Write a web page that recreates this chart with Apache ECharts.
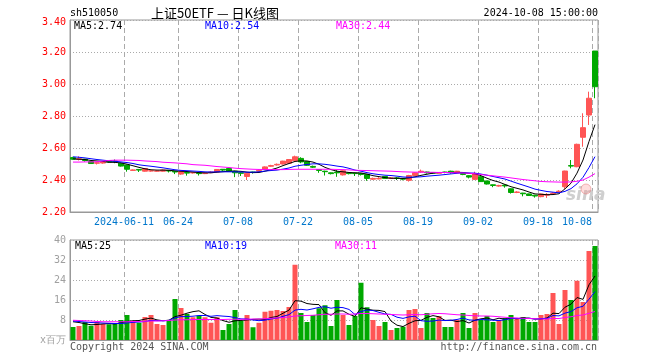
<!DOCTYPE html>
<html><head><meta charset="utf-8">
<script src="https://cdn.jsdelivr.net/npm/echarts@6/dist/echarts.min.js"></script>
<style>html,body{margin:0;padding:0;background:#fff}#c{width:660px;height:360px}</style>
</head><body><div id="c"></div>
<script>
const dates = ['2024-05-28','2024-05-29','2024-05-30','2024-05-31','2024-06-03','2024-06-04','2024-06-05','2024-06-06','2024-06-07','2024-06-11',
'2024-06-12','2024-06-13','2024-06-14','2024-06-17','2024-06-18','2024-06-19','2024-06-20','2024-06-21','2024-06-24','2024-06-25',
'2024-06-26','2024-06-27','2024-06-28','2024-07-01','2024-07-02','2024-07-03','2024-07-04','2024-07-05','2024-07-08','2024-07-09',
'2024-07-10','2024-07-11','2024-07-12','2024-07-15','2024-07-16','2024-07-17','2024-07-18','2024-07-19','2024-07-22','2024-07-23',
'2024-07-24','2024-07-25','2024-07-26','2024-07-29','2024-07-30','2024-07-31','2024-08-01','2024-08-02','2024-08-05','2024-08-06',
'2024-08-07','2024-08-08','2024-08-09','2024-08-12','2024-08-13','2024-08-14','2024-08-15','2024-08-16','2024-08-19','2024-08-20',
'2024-08-21','2024-08-22','2024-08-23','2024-08-26','2024-08-27','2024-08-28','2024-08-29','2024-08-30','2024-09-02','2024-09-03',
'2024-09-04','2024-09-05','2024-09-06','2024-09-09','2024-09-10','2024-09-11','2024-09-12','2024-09-13','2024-09-18','2024-09-19',
'2024-09-20','2024-09-23','2024-09-24','2024-09-25','2024-09-26','2024-09-27','2024-09-30','2024-10-08'];

const openP = [2.540,2.528,2.530,2.515,2.505,2.506,2.520,2.518,2.505,2.494,
2.460,2.466,2.455,2.456,2.455,2.455,2.460,2.455,2.437,2.447,
2.444,2.444,2.440,2.446,2.450,2.467,2.472,2.455,2.445,2.422,
2.450,2.455,2.467,2.486,2.494,2.500,2.505,2.520,2.535,2.515,
2.485,2.465,2.455,2.445,2.450,2.432,2.445,2.443,2.440,2.435,
2.405,2.407,2.422,2.410,2.413,2.410,2.398,2.428,2.450,2.450,
2.447,2.442,2.450,2.455,2.445,2.440,2.427,2.404,2.420,2.394,
2.370,2.362,2.368,2.345,2.322,2.318,2.313,2.305,2.296,2.305,
2.315,2.326,2.358,2.490,2.483,2.667,2.806,3.206];
const closeP = [2.530,2.533,2.522,2.503,2.508,2.512,2.512,2.515,2.487,2.467,
2.463,2.462,2.472,2.458,2.457,2.462,2.456,2.450,2.452,2.443,
2.447,2.440,2.443,2.450,2.466,2.462,2.455,2.445,2.442,2.442,
2.447,2.460,2.482,2.490,2.498,2.518,2.528,2.545,2.513,2.492,
2.480,2.460,2.452,2.440,2.445,2.458,2.440,2.440,2.435,2.410,
2.410,2.410,2.410,2.413,2.410,2.405,2.428,2.445,2.455,2.445,
2.443,2.447,2.447,2.450,2.455,2.435,2.418,2.437,2.390,2.375,
2.366,2.366,2.363,2.322,2.325,2.314,2.303,2.300,2.312,2.310,
2.318,2.330,2.456,2.487,2.623,2.727,2.911,2.983];
const lowP = [2.526,2.522,2.515,2.500,2.497,2.502,2.508,2.505,2.484,2.452,
2.457,2.450,2.452,2.452,2.452,2.452,2.447,2.437,2.432,2.427,
2.440,2.428,2.437,2.443,2.447,2.455,2.452,2.418,2.425,2.400,
2.440,2.452,2.463,2.482,2.490,2.497,2.502,2.515,2.505,2.488,
2.475,2.445,2.428,2.435,2.420,2.428,2.435,2.425,2.428,2.395,
2.400,2.404,2.407,2.408,2.400,2.398,2.390,2.425,2.445,2.440,
2.438,2.440,2.442,2.440,2.442,2.430,2.410,2.400,2.388,2.372,
2.355,2.358,2.352,2.315,2.318,2.298,2.300,2.290,2.292,2.288,
2.310,2.322,2.345,2.473,2.480,2.608,2.744,2.911];
const highP = [2.545,2.548,2.532,2.518,2.512,2.515,2.524,2.528,2.508,2.496,
2.466,2.468,2.475,2.460,2.460,2.465,2.462,2.456,2.454,2.450,
2.450,2.446,2.446,2.455,2.468,2.468,2.475,2.458,2.450,2.445,
2.452,2.465,2.485,2.495,2.503,2.520,2.530,2.552,2.542,2.518,
2.490,2.467,2.458,2.447,2.462,2.462,2.447,2.445,2.442,2.437,
2.415,2.418,2.425,2.418,2.418,2.412,2.432,2.450,2.465,2.452,
2.450,2.450,2.452,2.458,2.457,2.445,2.430,2.452,2.425,2.396,
2.372,2.370,2.370,2.347,2.330,2.320,2.315,2.307,2.314,2.318,
2.323,2.336,2.458,2.525,2.627,2.817,2.952,3.206];

const ma5 = [2.532,2.530,2.528,2.522,2.519,2.516,2.511,2.510,2.507,2.499,
2.489,2.479,2.470,2.464,2.462,2.462,2.461,2.457,2.455,2.453,
2.450,2.446,2.445,2.445,2.449,2.452,2.455,2.456,2.454,2.449,
2.446,2.447,2.455,2.464,2.475,2.490,2.503,2.516,2.520,2.519,
2.512,2.498,2.479,2.465,2.455,2.451,2.447,2.445,2.444,2.437,
2.427,2.421,2.415,2.411,2.411,2.410,2.413,2.420,2.429,2.436,
2.443,2.447,2.447,2.446,2.448,2.447,2.441,2.439,2.427,2.411,
2.397,2.387,2.372,2.358,2.348,2.338,2.325,2.313,2.311,2.308,
2.309,2.314,2.345,2.380,2.443,2.525,2.641,2.746];
const ma10 = [2.545,2.542,2.538,2.533,2.528,2.524,2.520,2.517,2.513,2.509,
2.503,2.495,2.490,2.486,2.481,2.476,2.470,2.464,2.460,2.458,
2.456,2.454,2.451,2.450,2.451,2.451,2.451,2.451,2.450,2.449,
2.449,2.451,2.456,2.459,2.462,2.468,2.475,2.486,2.492,2.497,
2.501,2.501,2.498,2.493,2.487,2.482,2.473,2.462,2.455,2.446,
2.439,2.434,2.430,2.428,2.424,2.419,2.417,2.418,2.420,2.424,
2.427,2.430,2.434,2.438,2.442,2.445,2.444,2.443,2.437,2.430,
2.422,2.414,2.406,2.393,2.380,2.368,2.356,2.343,2.335,2.328,
2.324,2.320,2.329,2.346,2.376,2.417,2.478,2.546];
const ma30 = [2.512,2.512,2.513,2.513,2.514,2.518,2.522,2.524,2.524,2.524,
2.523,2.522,2.519,2.517,2.515,2.511,2.509,2.507,2.504,2.501,
2.496,2.494,2.492,2.488,2.484,2.481,2.478,2.474,2.471,2.469,
2.467,2.466,2.466,2.465,2.465,2.465,2.466,2.467,2.467,2.467,
2.467,2.467,2.467,2.467,2.466,2.465,2.463,2.461,2.460,2.459,
2.458,2.457,2.456,2.455,2.453,2.451,2.450,2.449,2.449,2.448,
2.448,2.447,2.447,2.446,2.445,2.444,2.442,2.439,2.434,2.430,
2.426,2.422,2.418,2.413,2.408,2.403,2.399,2.395,2.391,2.389,
2.388,2.387,2.387,2.388,2.392,2.400,2.418,2.440];

const volume = [5.2,5.6,7.2,5.7,7.3,6.4,6.3,6.4,8.0,10.0,
7.7,6.9,9.2,10.0,6.4,6.0,8.0,16.4,12.8,10.4,
9.1,9.7,9.1,6.9,9.1,4.0,6.4,12.0,7.7,10.0,
5.1,6.9,11.3,11.7,12.0,11.6,13.2,30.1,10.8,7.2,
10.0,12.7,13.9,5.6,16.0,10.0,6.0,9.6,22.9,13.1,
8.0,5.6,7.2,4.0,4.8,5.3,12.0,12.4,4.8,10.8,
8.8,9.6,5.2,5.2,8.0,10.8,4.8,10.8,8.0,9.6,
7.2,8.0,8.8,10.0,8.4,9.2,7.2,7.2,10.0,10.4,
18.8,6.4,20.0,16.0,23.7,15.2,35.6,37.6];
const vma5 = [7.3,7.0,6.5,6.1,6.2,6.44,6.58,6.42,6.88,7.42,
7.68,7.8,8.36,8.76,8.04,7.7,7.92,9.36,9.92,10.72,
11.34,11.68,10.22,9.04,8.78,7.76,7.1,7.68,7.84,8.02,
8.24,8.34,8.2,9.0,9.4,10.7,11.96,15.72,15.54,14.58,
14.26,14.16,10.92,9.88,11.64,11.64,10.3,9.44,12.9,12.32,
11.92,11.84,11.36,7.58,5.92,5.38,6.66,7.7,7.86,9.06,
9.76,9.28,7.84,7.92,7.36,7.76,6.8,7.92,8.48,8.8,
8.08,8.72,8.32,8.72,8.48,8.88,8.72,8.4,8.4,8.8,
10.72,10.56,13.12,14.32,16.98,16.26,22.1,25.62];
const vma10 = [7.6,7.4,7.2,7.0,6.9,6.8,6.7,6.6,6.6,6.81,
7.06,7.19,7.39,7.82,7.73,7.69,7.86,8.86,9.34,9.38,
9.52,9.8,9.79,9.48,9.75,9.55,9.39,8.95,8.44,8.4,
8.0,7.72,7.94,8.42,8.71,9.47,10.15,11.96,12.27,11.99,
12.48,13.06,13.32,12.71,13.11,12.95,12.23,10.18,11.39,11.98,
11.78,11.07,10.4,10.24,9.12,8.65,9.25,9.53,7.72,7.49,
7.57,7.97,7.77,7.89,8.21,8.76,8.04,7.88,8.2,8.08,
7.92,7.76,8.12,8.6,8.64,8.48,8.72,8.36,8.56,8.64,
9.8,9.64,10.76,11.36,12.89,13.49,16.33,19.37];
const vma30 = [7.9,7.8,7.7,7.6,7.4,7.3,7.3,7.3,7.3,7.3,
7.4,7.4,7.5,7.6,7.6,7.7,7.8,8.0,8.1,8.1,
8.2,8.2,8.2,8.2,8.2,8.2,8.3,8.3,8.3,8.3,
8.4,8.4,8.5,8.7,8.8,9.0,9.2,9.6,9.7,9.8,
9.9,10.1,10.3,10.3,10.4,10.4,10.3,10.4,10.6,10.6,
10.5,10.4,10.3,10.2,10.1,10.0,10.1,10.2,10.1,10.3,
10.5,10.6,10.5,10.3,10.1,10.0,9.8,9.7,9.6,9.6,
9.5,9.3,9.1,8.9,8.8,8.7,8.6,8.5,8.4,8.4,
8.6,8.6,9.0,9.3,9.8,10.0,10.7,11.4];

const tickDates = ['2024-06-11','2024-06-24','2024-07-08','2024-07-22','2024-08-05','2024-08-19','2024-09-02','2024-09-18','2024-10-08'];
const tickLabels = ['2024-06-11','06-24','07-08','07-22','08-05','08-19','09-02','09-18','10-08'];
const priceTicks = [2.20, 3.40, 0.20];
const volTicks = [0, 40, 8];
const volUnit = 'x百万';
const headCode = 'sh510050';
const headTitle = '上证50ETF — 日K线图';
const headTime = '2024-10-08 15:00:00';
const priceLegend = ['MA5:2.74','MA10:2.54','MA30:2.44'];
const volLegend = ['MA5:25','MA10:19','MA30:11'];

const UP = '#ff5555', DOWN = '#00a800';
const MONO = "'DejaVu Sans Mono', monospace";
const GRIDC = '#aaaaaa';

const kData = dates.map((d, i) => [openP[i], closeP[i], lowP[i], highP[i]]);
const vData = volume.map((v, i) => ({value: v, itemStyle: {color: closeP[i] >= openP[i] ? UP : DOWN}}));
const showTick = (idx, val) => tickDates.indexOf(val) >= 0;

const chart = echarts.init(document.getElementById('c'), null, {renderer: 'canvas'});
function lineS(data, color, xi) {
  return {type: 'line', data: data, xAxisIndex: xi, yAxisIndex: xi, showSymbol: false, symbol: 'none',
    lineStyle: {color: color, width: 1}, z: 5, silent: true};
}
function txt(x, y, s, color, align, font) {
  return {type: 'text', x: x, y: y, z: 10, style: {text: s, fill: color, align: align || 'left', verticalAlign: 'middle',
    font: font || ('10px ' + MONO)}};
}
const xBase = {
  type: 'category', data: dates, boundaryGap: true,
  axisLine: {show: true, lineStyle: {color: '#999'}},
  axisTick: {show: false, interval: showTick},
  splitLine: {show: true, interval: showTick, lineStyle: {color: GRIDC, type: [5, 3], width: 1}}
};
chart.setOption({
  animation: false,
  grid: [
    {left: 70, top: 20, width: 528, height: 192, show: true, borderColor: '#999', borderWidth: 1},
    {left: 70, top: 240, width: 528, height: 100, show: true, borderColor: '#999', borderWidth: 1}
  ],
  xAxis: [
    Object.assign({}, xBase, {gridIndex: 0,
      axisLabel: {show: true, interval: showTick, margin: 5,
        formatter: function (v) { const k = tickDates.indexOf(v); return k === tickDates.length - 1 ? '{e|' + tickLabels[k] + '}' : '{n|' + tickLabels[k] + '}'; },
        rich: {n: {fontFamily: MONO, fontSize: 10, color: '#0077cc', padding: [0, 6, 0, 0]},
               e: {fontFamily: MONO, fontSize: 10, color: '#0077cc', padding: [0, 36, 0, 0]}}}}),
    Object.assign({}, xBase, {gridIndex: 1, axisLabel: {show: false}})
  ],
  yAxis: [
    {type: 'value', gridIndex: 0, min: priceTicks[0], max: priceTicks[1], interval: priceTicks[2],
      axisLine: {show: true, lineStyle: {color: '#999'}}, axisTick: {show: false},
      axisLabel: {margin: 4,
        formatter: v => (Math.abs(v - priceTicks[1]) < 1e-6 ? '{t|' : '{p|') + v.toFixed(2) + '}',
        rich: {p: {color: '#ff0000', fontFamily: MONO, fontSize: 10},
               t: {color: '#ff0000', fontFamily: MONO, fontSize: 10, padding: [4, 0, 0, 0]}}},
      splitLine: {show: true, lineStyle: {color: GRIDC, type: [1, 2]}}},
    {type: 'value', gridIndex: 1, min: volTicks[0], max: volTicks[1], interval: volTicks[2],
      axisLine: {show: true, lineStyle: {color: '#999'}}, axisTick: {show: false},
      axisLabel: {color: '#a0a0a0', fontFamily: MONO, fontSize: 10, margin: 4,
        formatter: v => v === 0 ? volUnit : String(v)},
      splitLine: {show: true, lineStyle: {color: GRIDC, type: [1, 2]}}}
  ],
  series: [
    {type: 'candlestick', xAxisIndex: 0, yAxisIndex: 0, data: kData, barWidth: 5, z: 3,
      itemStyle: {color: UP, color0: DOWN, borderColor: UP, borderColor0: DOWN, borderWidth: 1}},
    lineS(ma5, '#000000', 0), lineS(ma10, '#0000ff', 0), lineS(ma30, '#ff00ff', 0),
    {type: 'bar', xAxisIndex: 1, yAxisIndex: 1, data: vData, barWidth: 5, z: 3},
    lineS(vma5, '#000000', 1), lineS(vma10, '#0000ff', 1), lineS(vma30, '#ff00ff', 1)
  ],
  graphic: [
    txt(70, 13, headCode, '#000'),
    txt(151, 13, headTitle, '#000', 'left', "13px 'Noto Sans CJK SC', sans-serif"),
    txt(598, 13, headTime, '#000', 'right'),
    txt(74, 26, priceLegend[0], '#000'),
    txt(205, 26, priceLegend[1], '#0000ff'),
    txt(336, 26, priceLegend[2], '#ff00ff'),
    txt(75, 246, volLegend[0], '#000'),
    txt(205, 246, volLegend[1], '#0000ff'),
    txt(335, 246, volLegend[2], '#ff00ff'),
    txt(70, 347, 'Copyright 2024 SINA.COM', '#555'),
    txt(597, 347, 'http://finance.sina.com.cn', '#555', 'right'),
    {type: 'text', x: 566, y: 196, z: 1, style: {text: 'sina', fill: '#cfcfcf', align: 'left', verticalAlign: 'middle',
      font: "italic bold 17px 'DejaVu Sans', sans-serif"}},
    {type: 'circle', z: 1, shape: {cx: 586, cy: 189, r: 5}, style: {fill: 'rgba(255,120,120,0.25)', stroke: 'rgba(230,120,120,0.5)', lineWidth: 1}}
  ]
});
</script></body></html>
